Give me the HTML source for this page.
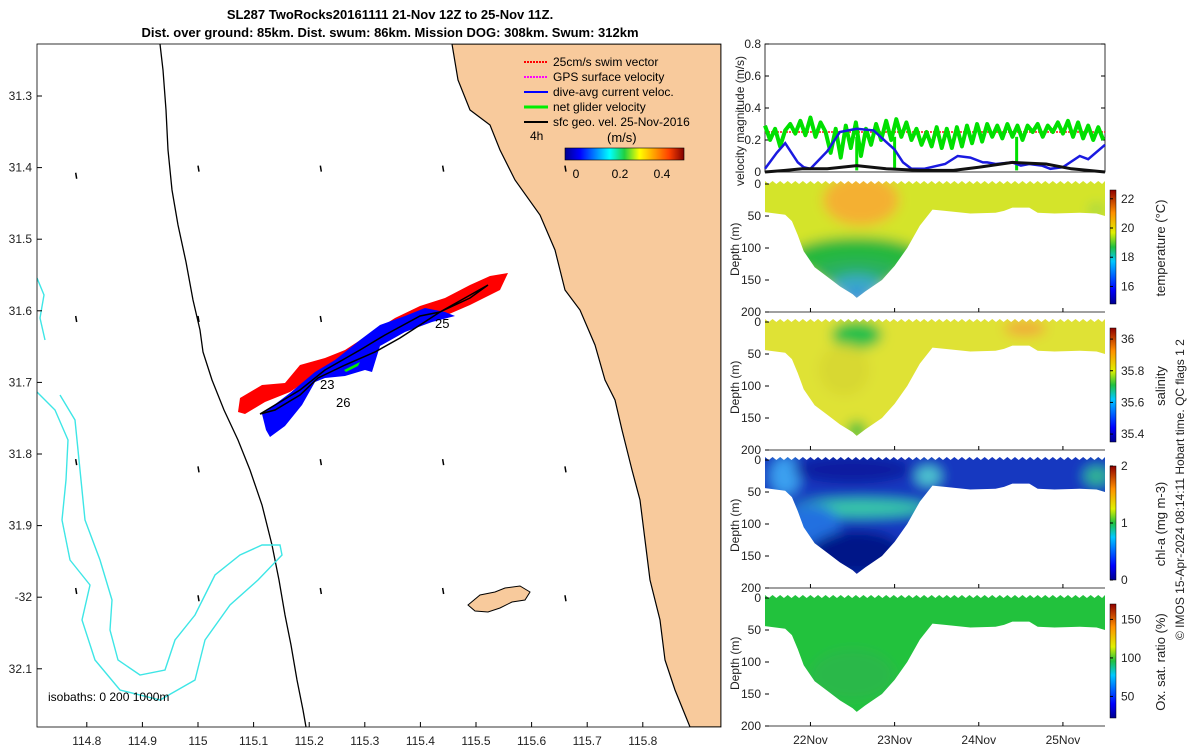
<!DOCTYPE html>
<html><head><meta charset="utf-8">
<style>
body{margin:0;background:#fff;}
svg{display:block;font-family:"Liberation Sans","DejaVu Sans",sans-serif;}
</style></head>
<body>
<svg id="fig" width="1200" height="750" viewBox="0 0 1200 750">
<defs>
<linearGradient id="jet" x1="0" x2="1" y1="0" y2="0">
<stop offset="0" stop-color="#00008f"/><stop offset="0.125" stop-color="#0000ff"/><stop offset="0.375" stop-color="#00ffff"/><stop offset="0.5" stop-color="#20d040"/><stop offset="0.625" stop-color="#ffff00"/><stop offset="0.875" stop-color="#ff4000"/><stop offset="1" stop-color="#800000"/>
</linearGradient>
<linearGradient id="jetv" x1="0" x2="0" y1="1" y2="0">
<stop offset="0" stop-color="#00008f"/><stop offset="0.125" stop-color="#0000ff"/><stop offset="0.375" stop-color="#00c8ff"/><stop offset="0.5" stop-color="#20c040"/><stop offset="0.625" stop-color="#e0f000"/><stop offset="0.8" stop-color="#ff9000"/><stop offset="1" stop-color="#900000"/>
</linearGradient>
<filter id="blur" x="-20%" y="-20%" width="140%" height="140%"><feGaussianBlur stdDeviation="6"/></filter>
<clipPath id="mapclip"><rect x="37" y="44" width="684" height="683"/></clipPath>
</defs>

<text x="390" y="19" text-anchor="middle" font-size="13" font-weight="bold">SL287 TwoRocks20161111 21-Nov 12Z to 25-Nov 11Z.</text>
<text x="390" y="37" text-anchor="middle" font-size="13" font-weight="bold">Dist. over ground: 85km. Dist. swum: 86km. Mission DOG: 308km. Swum: 312km</text>

<g clip-path="url(#mapclip)">
<rect x="37" y="44" width="684" height="683" fill="#fff"/>
<path fill="#f8ca9c" stroke="#000" stroke-width="1.2"
 d="M452,44 L458,80 L470,110 L490,125 L500,150 L515,180 L540,215 L555,250 L565,290 L580,310 L595,345 L605,380 L615,400 L622,430 L632,470 L640,500 L645,540 L650,580 L660,620 L665,660 L675,690 L690,727 L721,727 L721,44 Z"/>
<path fill="#f8ca9c" stroke="#000" stroke-width="1" d="M468,605 L480,595 L495,592 L505,588 L520,586 L530,592 L525,600 L512,602 L500,608 L488,612 L475,611 Z"/>
<path fill="none" stroke="#000" stroke-width="1.3"
 d="M160,44 L163,70 L166,110 L168,150 L172,190 L178,225 L186,262 L193,300 L200,330 L203,352 L212,380 L224,410 L238,440 L250,470 L262,505 L272,545 L279,580 L285,615 L291,645 L297,680 L303,710 L306,727"/>
<path fill="none" stroke="#3ee6e6" stroke-width="1.4"
 d="M37,278 L44,295 L40,318 L45,340"/>
<path fill="none" stroke="#3ee6e6" stroke-width="1.4"
 d="M37,392 L55,410 L68,440 L66,480 L62,520 L70,560 L90,585 L82,620 L95,660 L120,690 L160,700 L195,680 L205,640 L230,605 L258,580 L282,555 L280,545 L262,545 L240,555 L215,575 L205,595 L195,615 L175,640 L165,670 L140,675 L118,660 L110,630 L112,600 L100,560 L85,520 L80,470 L75,420 L60,395"/>
<path fill="#ff0000" d="M238,412 L240,398 L262,385 L285,383 L300,365 L325,358 L345,350 L368,335 L395,318 L420,306 L445,298 L470,285 L490,276 L508,273 L500,290 L470,305 L440,318 L400,330 L370,350 L340,365 L315,375 L290,392 L265,402 L245,414 Z"/>
<path fill="#0000ff" d="M262,414 L290,393 L315,372 L335,360 L360,340 L380,325 L405,316 L425,308 L445,312 L455,316 L432,322 L405,332 L380,346 L372,372 L365,370 L345,376 L325,378 L315,382 L302,405 L285,426 L270,437 L266,430 Z"/>
<path fill="#00ee00" d="M344,370 L360,362 L358,366 L346,372 Z"/>
<path fill="none" stroke="#000" stroke-width="1.5" d="M260,414 L300,390 L325,370 L360,350 L385,335 L420,316 L440,312 L488,285 L470,298 L440,312 L400,338 L375,352 L345,365 L318,378 L300,395 L275,410 L260,414"/>
<text x="320" y="389" font-size="13">23</text>
<text x="336" y="407" font-size="13">26</text>
<text x="435" y="328" font-size="13">25</text>
<g id="arrows" stroke="#000" stroke-width="1.5"></g>
<g font-size="12">
<line x1="524" y1="62" x2="548" y2="62" stroke="#ff0000" stroke-width="2" stroke-dasharray="2,1"/><text x="553" y="66">25cm/s swim vector</text>
<line x1="524" y1="77" x2="548" y2="77" stroke="#ff00ff" stroke-width="2" stroke-dasharray="2,1"/><text x="553" y="81">GPS surface velocity</text>
<line x1="524" y1="92" x2="548" y2="92" stroke="#0000ff" stroke-width="2"/><text x="553" y="96">dive-avg current veloc.</text>
<line x1="524" y1="107" x2="548" y2="107" stroke="#00ee00" stroke-width="3"/><text x="553" y="111">net glider velocity</text>
<line x1="524" y1="122" x2="548" y2="122" stroke="#000" stroke-width="2"/><text x="553" y="126">sfc geo. vel. 25-Nov-2016</text>
<text x="530" y="140">4h</text>
<text x="607" y="142" font-size="13">(m/s)</text>
<rect x="565" y="148" width="119" height="12" fill="url(#jet)" stroke="#000" stroke-width="0.6"/>
<text x="576" y="178" text-anchor="middle">0</text><text x="620" y="178" text-anchor="middle">0.2</text><text x="662" y="178" text-anchor="middle">0.4</text>
</g>
<text x="48" y="701" font-size="12">isobaths: 0   200  1000m</text>
</g>
<rect x="37" y="44" width="684" height="683" fill="none" stroke="#000" stroke-width="0.8"/>
<g id="mapticks" font-size="12" fill="#222"></g>

<g id="vel"></g>
<g id="sections"></g>
<text transform="translate(1184,640) rotate(-90)" font-size="12" fill="#222">© IMOS 15-Apr-2024 08:14:11 Hobart time. QC flags 1  2</text>
</svg>
<script>
const lonTicks=[114.8,114.9,115,115.1,115.2,115.3,115.4,115.5,115.6,115.7,115.8];
const latTicks=[31.3,31.4,31.5,31.6,31.7,31.8,31.9,32.0,32.1];
const latLabels=['31.3','31.4','31.5','31.6','31.7','31.8','31.9','-32','32.1'];
const arrowLon=[114.78,115.0,115.22,115.44,115.66,114.78,115.0,115.22,114.78,115.0,115.22,115.44,115.66,114.78,115.0,115.22,115.44,115.66];
const arrowLat=[31.41,31.40,31.40,31.40,31.40,31.61,31.61,31.61,31.81,31.82,31.81,31.81,31.82,31.99,32.0,31.99,31.99,32.0];
const velDays=[21.46,21.52,21.58,21.64,21.70,21.76,21.82,21.88,21.94,22.00,22.06,22.12,22.18,22.24,22.30,22.36,22.42,22.48,22.54,22.60,22.66,22.72,22.78,22.84,22.90,22.96,23.02,23.08,23.14,23.20,23.26,23.32,23.38,23.44,23.50,23.56,23.62,23.68,23.74,23.80,23.86,23.92,23.98,24.04,24.10,24.16,24.22,24.28,24.34,24.40,24.46,24.52,24.58,24.64,24.70,24.76,24.82,24.88,24.94,25.00,25.06,25.12,25.18,25.24,25.30,25.36,25.42,25.48];
const netVel=[0.29,0.20,0.27,0.16,0.26,0.30,0.24,0.32,0.23,0.34,0.22,0.31,0.25,0.12,0.27,0.09,0.29,0.15,0.31,0.10,0.27,0.17,0.30,0.20,0.32,0.20,0.33,0.22,0.31,0.20,0.27,0.17,0.25,0.16,0.28,0.15,0.27,0.15,0.28,0.16,0.29,0.18,0.30,0.19,0.30,0.22,0.29,0.21,0.30,0.22,0.29,0.20,0.29,0.25,0.30,0.22,0.29,0.25,0.31,0.24,0.32,0.22,0.31,0.21,0.29,0.20,0.28,0.20];
const netDip=[23.0,22.55,24.45];
const swimVel=0.25;
const curDays=[21.46,21.6,21.7,21.85,21.92,22.0,22.2,22.35,22.55,22.75,23.0,23.1,23.2,23.35,23.6,23.75,23.9,24.05,24.1,24.2,24.4,24.5,24.6,24.75,24.85,25.0,25.2,25.3,25.5];
const curVel=[0.02,0.12,0.18,0.06,0.03,0.02,0.13,0.25,0.27,0.26,0.14,0.06,0.02,0.02,0.05,0.10,0.09,0.06,0.06,0.05,0.06,0.04,0.05,0.04,0.02,0.03,0.10,0.08,0.17];
const geoDays=[21.46,21.7,21.9,22.2,22.55,22.9,23.3,23.7,24.0,24.4,24.8,25.1,25.5];
const geoVel=[0.0,0.01,0.02,0.02,0.04,0.02,0.01,0.01,0.03,0.06,0.05,0.02,0.0];
const profDays=[21.46,21.7,21.78,21.85,21.92,22.05,22.2,22.35,22.5,22.55,22.65,22.85,23.0,23.15,23.3,23.45,23.6,23.9,24.2,24.3,24.4,24.6,24.7,24.9,25.2,25.4,25.5];
const profDepth=[44,48,58,80,105,130,145,160,172,178,168,150,128,100,65,40,42,46,45,42,37,37,45,46,45,46,50];
const dayTicks=[22,23,24,25];
const dayLabels=['22Nov','23Nov','24Nov','25Nov'];
const depthTicks=[0,50,100,150,200];
const velTicks=[0,0.2,0.4,0.6,0.8];
const panels=[
 {name:'temperature',label:'temperature (°C)',ticks:[16,18,20,22],min:14.8,max:22.6,top:184},
 {name:'salinity',label:'salinity',ticks:[35.4,35.6,35.8,36],min:35.35,max:36.07,top:322},
 {name:'chl-a',label:'chl-a (mg m-3)',ticks:[0,1,2],min:0,max:2,top:460},
 {name:'oxygen',label:'Ox. sat. ratio (%)',ticks:[50,100,150],min:22,max:170,top:598}
];
const blobs=[
 [[21.46,0,5,400,'#d4e42c'],[22.6,25,0.45,40,'#f4b030'],[22.55,115,0.8,32,'#28b83c'],[22.55,140,0.5,22,'#2cb060'],[22.55,160,0.3,18,'#3aa8c8'],[22.55,178,0.15,12,'#3090e0'],[25.4,40,0.1,10,'#a0d840']],
 [[21.46,0,5,400,'#dfe236'],[22.55,20,0.3,22,'#28c048'],[22.4,75,0.3,40,'#d8d830'],[24.55,10,0.25,12,'#f0aa38'],[22.55,170,0.12,15,'#40c040']],
 [[21.46,0,5,400,'#1838c0'],[21.7,25,0.18,30,'#3aa0f0'],[22.5,15,0.7,22,'#0a1ca0'],[22.6,75,0.8,14,'#38c8a8'],[22.0,100,0.35,30,'#2070e0'],[22.55,145,0.55,35,'#061488'],[23.4,25,0.15,15,'#50c8d0'],[25.4,25,0.15,15,'#30b890']],
 [[21.46,0,5,400,'#22c23e'],[22.5,120,0.5,40,'#2ab848']]
];
const NS='http://www.w3.org/2000/svg';
function mk(tag,attrs,parent,text){const e=document.createElementNS(NS,tag);for(const k in attrs)e.setAttribute(k,attrs[k]);if(text!==undefined)e.textContent=text;parent.appendChild(e);return e;}
const lonX=l=>198+(l-115)*556;
const latY=l=>96+(l-31.3)*716;
const X0=765,X1=1105;
const dX=d=>X0+(d-21.46)*(X1-X0)/(25.5-21.46);
const vY=v=>172-v*160;

const mt=document.getElementById('mapticks');
lonTicks.forEach(l=>{const x=lonX(l);mk('line',{x1:x,x2:x,y1:727,y2:722,stroke:'#000'},mt);
 const t=mk('text',{x:x,y:745,'text-anchor':'middle'},mt,String(l));
 });
latTicks.forEach((l,i)=>{const y=latY(l);mk('line',{x1:37,x2:42,y1:y,y2:y,stroke:'#000'},mt);
 const t=mk('text',{x:32,y:y+4,'text-anchor':'end'},mt,latLabels[i]);
 });
const ar=document.getElementById('arrows');
arrowLon.forEach((l,i)=>{const x=lonX(l),y=latY(arrowLat[i]);
 const a=mk('line',{x1:x,y1:y-2,x2:x+1,y2:y+4},ar);
 });

const vel=document.getElementById('vel');
mk('rect',{x:X0,y:44,width:X1-X0,height:128,fill:'#fff',stroke:'#000','stroke-width':0.8},vel);
velTicks.forEach(v=>{const y=vY(v);mk('line',{x1:X0,x2:X0+4,y1:y,y2:y,stroke:'#000'},vel);mk('line',{x1:X1,x2:X1-4,y1:y,y2:y,stroke:'#000'},vel);
 const t=mk('text',{x:X0-4,y:y+4,'text-anchor':'end','font-size':12,fill:'#222'},vel,v===0?'0':v.toFixed(1));
 });
const vt=mk('text',{transform:'translate(744,186) rotate(-90)','font-size':12,fill:'#222'},vel,'velocity magnitude (m/s)');

const sw=mk('line',{x1:X0,x2:X1,y1:vY(swimVel),y2:vY(swimVel),stroke:'#ff2020','stroke-width':2,'stroke-dasharray':'2,1',opacity:0.8},vel);

const gp=mk('polyline',{points:velDays.map((d,i)=>dX(d)+','+vY(netVel[i])).join(' '),fill:'none',stroke:'#00e000','stroke-width':4,'stroke-linejoin':'round'},vel);

netDip.forEach(d=>{const dp=mk('line',{x1:dX(d),x2:dX(d),y1:vY(0.22),y2:vY(0.01),stroke:'#00e000','stroke-width':3},vel);
 });
const cp=mk('polyline',{points:curDays.map((d,i)=>dX(d)+','+vY(curVel[i])).join(' '),fill:'none',stroke:'#1a1ae0','stroke-width':2.5},vel);

const kp=mk('polyline',{points:geoDays.map((d,i)=>dX(d)+','+vY(geoVel[i])).join(' '),fill:'none',stroke:'#111','stroke-width':3},vel);


const sec=document.getElementById('sections');
const H=128;
panels.forEach((p,pi)=>{
 const top=p.top,dY=z=>top+z*H/200;
 const g=mk('g',{},sec);
 
 const cid='clip'+pi;
 const cp=mk('clipPath',{id:cid},g);
 let pts=[dX(21.46)+','+(top-3)];
 for(let d=21.46;d<=25.5;d+=0.045){pts.push(dX(d)+','+(top-3+((Math.round((d-21.46)/0.045))%2)*3));}
 pts.push(dX(25.5)+','+(top-3));
 for(let i=profDays.length-1;i>=0;i--)pts.push(dX(profDays[i])+','+dY(profDepth[i]));
 mk('polygon',{points:pts.join(' ')},cp);
 const inner=mk('g',{'clip-path':'url(#'+cid+')'},g);
 const fg=mk('g',{filter:'url(#blur)'},inner);
 blobs[pi].forEach((b,bi)=>{
  const cx=dX(b[0]),cy=dY(b[1]),rx=b[2]*(X1-X0)/4.04,ry=b[3]*H/200;
  const el=bi===0?mk('rect',{x:X0-20,y:top-20,width:X1-X0+40,height:H+40,fill:b[4]},fg):mk('ellipse',{cx:cx,cy:cy,rx:rx,ry:ry,fill:b[4]},fg);
  
 });
 mk('line',{x1:X0,x2:X1,y1:top+H,y2:top+H,stroke:'#000','stroke-width':0.8},g);
 depthTicks.forEach(z=>{const y=dY(z);mk('line',{x1:X0,x2:X0+4,y1:y,y2:y,stroke:'#000'},g);
  const t=mk('text',{x:X0-4,y:y+4,'text-anchor':'end','font-size':12,fill:'#222'},g,String(z));
  });
 dayTicks.forEach(d=>{const x=dX(d);mk('line',{x1:x,x2:x,y1:top+H,y2:top+H-4,stroke:'#000'},g);});
 const yt=mk('text',{transform:'translate(739,'+(top+H/2+28)+') rotate(-90)','font-size':12,fill:'#222'},g,'Depth (m)');
 
 const cb=mk('rect',{x:1110,y:top+6,width:6,height:H-14,fill:'url(#jetv)',stroke:'#000','stroke-width':0.5},g);
 
 p.ticks.forEach(v=>{const y=top+6+(H-14)*(1-(v-p.min)/(p.max-p.min));
  mk('line',{x1:1110,x2:1113,y1:y,y2:y,stroke:'#000'},g);
  const t=mk('text',{x:1121,y:y+4,'font-size':12,fill:'#222'},g,String(v));
  });
 const ct=mk('text',{transform:'translate(1165,'+(top+H/2)+') rotate(-90)','font-size':13,fill:'#222','text-anchor':'middle'},g,p.label);
 
});
dayTicks.forEach((d,i)=>{const t=mk('text',{x:dX(d),y:744,'text-anchor':'middle','font-size':12,fill:'#222'},sec,dayLabels[i]);
 });
</script>
</body></html>
